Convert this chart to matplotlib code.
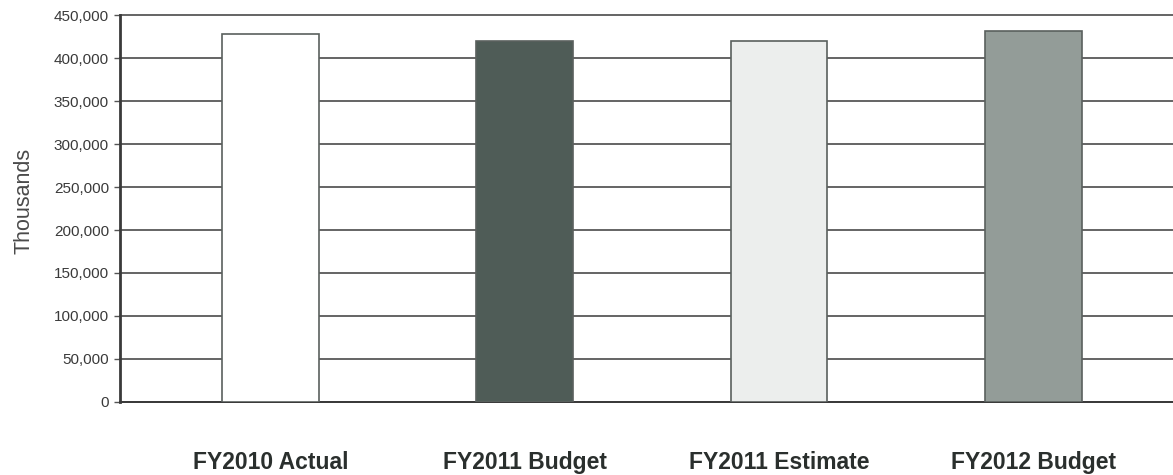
import matplotlib
matplotlib.use("Agg")
import matplotlib.pyplot as plt
from matplotlib.ticker import FuncFormatter

categories = ["FY2010 Actual", "FY2011 Budget", "FY2011 Estimate", "FY2012 Budget"]
values = [427900, 420100, 420200, 431400]
bar_colors = ["#ffffff", "#4f5c57", "#eceeed", "#939c98"]
yticks = [0, 50000, 100000, 150000, 200000, 250000, 300000, 350000, 400000, 450000]

plt.rcParams['font.family'] = ['Liberation Sans', 'DejaVu Sans']

fig = plt.figure(figsize=(11.73, 4.75), dpi=100)
ax = fig.add_axes([0.1023, 0.1537, 0.9, 0.8147])

x = list(range(len(categories)))
ax.bar(x, values, width=0.38, color=bar_colors, edgecolor="#5a605e",
       linewidth=1.2, zorder=3)

ax.set_ylim(0, 450000)
ax.set_xlim(-0.592, 3.56)
ax.set_yticks(yticks)
ax.yaxis.set_major_formatter(FuncFormatter(lambda v, p: "{:,.0f}".format(v)))
ax.grid(axis='y', color="#4a4a4a", linewidth=1.2, zorder=0)
for line in ax.get_ygridlines():
    line.set_clip_on(False)

ax.set_xticks(x)
ax.set_xticklabels(categories, fontsize=16.5, fontweight='bold', color="#2a2f2d")
ax.tick_params(axis='x', length=0, pad=35)
ax.tick_params(axis='y', labelsize=11, colors="#555555", length=4, width=1,
               direction='out', pad=4)
for lbl in ax.get_yticklabels():
    lbl.set_color("#3a3a3a")

ax.set_ylabel("Thousands", fontsize=15.5, color="#4a4a4a")
ax.yaxis.set_label_coords(-0.081, 0.52)

for side in ['top', 'right']:
    ax.spines[side].set_visible(False)
ax.spines['left'].set_linewidth(2)
ax.spines['left'].set_color("#3a3a3a")
ax.spines['bottom'].set_linewidth(1.4)
ax.spines['bottom'].set_color("#3a3a3a")

fig.savefig("out.png", dpi=100)
